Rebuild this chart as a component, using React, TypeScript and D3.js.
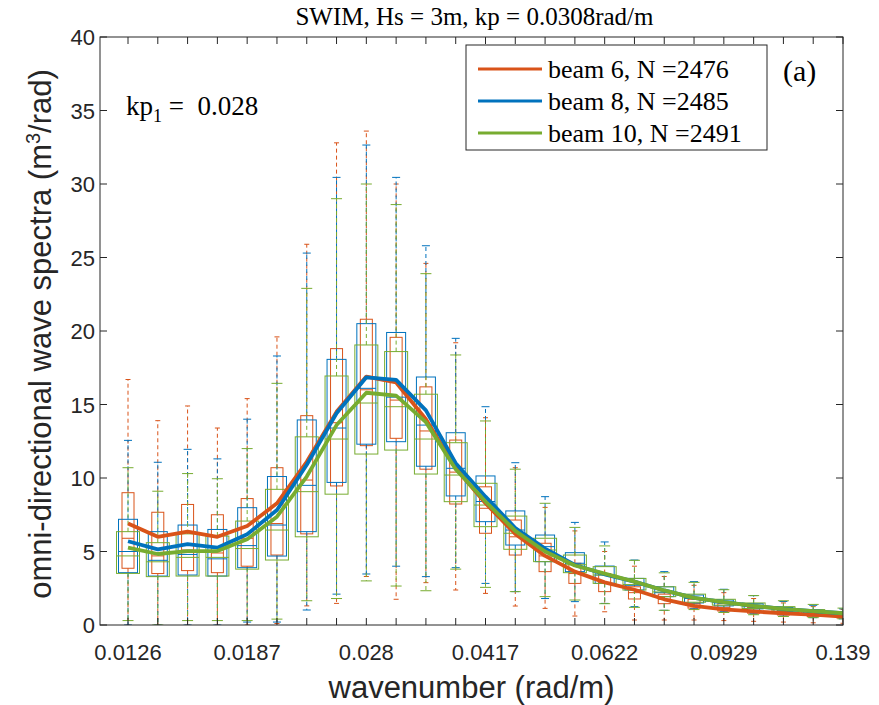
import React from "react";
import * as d3 from "d3";

const categoryIndex = d3.range(25);
const xTickLabels = ["0.0126", "0.0187", "0.028", "0.0417", "0.0622", "0.0929", "0.139"];
const xLabelIdx = [0, 4, 8, 12, 16, 20, 24];
const yTicks = [0, 5, 10, 15, 20, 25, 30, 35, 40];

// beam 6 (orange)
const b6Hi = [16.7, 13.9, 14.9, 13.4, 15.4, 19.6, 25.9, 32.8, 33.6, 30.0, 24.6, 19.2, 14.1, 10.7, 8.0, 6.4, 5.0, 4.0, 3.3, 2.7, 2.2, 1.8, 1.5, 1.25, 1.05];
const b6Q3 = [9.0, 7.67, 8.2, 7.5, 8.6, 10.7, 14.24, 18.8, 20.8, 19.57, 16.2, 12.58, 9.4, 7.14, 5.56, 4.2, 3.5, 2.6, 2.1, 1.75, 1.45, 1.2, 1.0, 0.85, 0.72];
const b6Med = [5.9, 4.7, 5.1, 4.9, 5.9, 6.9, 9.86, 13.76, 16.0, 15.3, 13.2, 10.4, 7.94, 6.0, 4.7, 3.5, 2.9, 2.2, 1.75, 1.45, 1.2, 1.0, 0.85, 0.7, 0.6];
const b6Q1 = [3.86, 3.5, 3.7, 3.56, 4.0, 4.76, 6.2, 9.46, 12.2, 12.7, 10.6, 8.23, 6.24, 4.76, 3.63, 2.83, 2.27, 1.77, 1.45, 1.15, 0.95, 0.8, 0.68, 0.57, 0.48];
const b6Lo = [0.0, 0.0, 0.0, 0.0, 0.0, 0.1, 1.3, 1.47, 3.3, 1.75, 2.88, 2.38, 2.15, 1.29, 1.13, 0.61, 0.9, 0.34, 0.34, 0.34, 0.3, 0.25, 0.2, 0.15, 0.12];
const b6Mean = [6.9, 6.0, 6.35, 6.0, 6.73, 8.28, 11.1, 14.5, 16.9, 16.5, 14.0, 10.66, 8.28, 6.2, 4.7, 3.63, 2.9, 2.4, 1.75, 1.3, 1.07, 0.92, 0.8, 0.7, 0.57];

// beam 8 (blue)
const b8Hi = [12.56, 11.07, 11.95, 11.3, 14.0, 18.3, 25.3, 30.45, 32.65, 30.45, 25.8, 19.5, 14.85, 11.04, 8.73, 6.98, 5.65, 4.42, 3.63, 2.95, 2.43, 2.0, 1.6, 1.34, 1.1];
const b8Q3 = [7.19, 6.35, 6.8, 6.5, 7.98, 10.1, 13.95, 18.07, 20.5, 19.9, 16.87, 13.08, 10.14, 7.76, 6.12, 4.92, 4.01, 3.17, 2.6, 2.04, 1.7, 1.45, 1.2, 1.0, 0.85];
const b8Med = [5.0, 4.4, 4.8, 4.5, 5.4, 6.8, 9.5, 13.4, 16.1, 15.5, 13.6, 10.66, 8.4, 6.46, 5.33, 4.2, 3.4, 2.7, 2.2, 1.8, 1.5, 1.25, 1.05, 0.9, 0.75];
const b8Q1 = [3.56, 3.33, 3.4, 3.33, 3.9, 4.69, 6.35, 9.7, 12.3, 12.47, 10.8, 8.78, 7.03, 5.44, 4.31, 3.63, 2.83, 2.38, 1.93, 1.5, 1.3, 1.1, 0.92, 0.78, 0.65];
const b8Lo = [0.0, 0.0, 0.0, 0.0, 0.2, 0.2, 1.02, 2.1, 3.47, 4.0, 3.29, 3.9, 2.83, 2.27, 1.8, 1.59, 1.47, 1.25, 1.0, 1.1, 0.9, 0.75, 0.6, 0.5, 0.42];
const b8Mean = [5.7, 5.15, 5.5, 5.26, 6.17, 7.82, 10.9, 14.4, 16.85, 16.67, 14.6, 11.0, 8.73, 6.6, 5.2, 4.08, 3.45, 2.95, 2.35, 1.85, 1.55, 1.3, 1.1, 0.95, 0.8];

// beam 10 (green)
const b10Hi = [10.7, 9.1, 10.3, 9.95, 12.0, 16.44, 22.9, 29.0, 30.0, 28.6, 23.9, 18.37, 13.88, 10.6, 8.28, 6.64, 5.38, 4.4, 3.55, 2.9, 2.4, 2.0, 1.65, 1.4, 1.15];
const b10Q3 = [6.35, 5.6, 6.2, 6.05, 7.07, 9.23, 12.8, 16.94, 19.05, 18.6, 15.7, 12.4, 9.64, 7.41, 5.9, 4.76, 3.97, 3.17, 2.6, 2.1, 1.75, 1.5, 1.25, 1.05, 0.88];
const b10Med = [4.7, 4.3, 4.6, 4.6, 5.2, 6.46, 9.07, 12.65, 15.1, 14.85, 12.65, 10.2, 8.16, 6.24, 5.1, 4.1, 3.4, 2.75, 2.25, 1.85, 1.55, 1.3, 1.1, 0.92, 0.78];
const b10Q1 = [3.51, 3.29, 3.33, 3.33, 3.8, 4.42, 6.0, 8.9, 11.63, 11.9, 10.27, 8.39, 6.69, 5.15, 4.31, 3.56, 2.83, 2.38, 1.93, 1.55, 1.35, 1.12, 0.95, 0.8, 0.67];
const b10Lo = [0.3, 0.0, 0.3, 0.3, 0.3, 0.4, 1.65, 1.8, 3.0, 2.65, 2.33, 3.8, 2.56, 2.27, 1.93, 1.7, 1.45, 1.2, 1.0, 1.05, 0.85, 0.7, 0.58, 0.5, 0.42];
const b10Mean = [5.26, 4.83, 5.03, 5.03, 5.83, 7.37, 10.1, 13.6, 15.8, 15.6, 13.8, 10.6, 8.4, 6.4, 5.0, 4.05, 3.5, 2.95, 2.35, 1.85, 1.55, 1.3, 1.1, 0.95, 0.8];

const beamNames = ["beam 6, N =2476", "beam 8, N =2485", "beam 10, N =2491"];
const beamColors = ["#D95319", "#0072BD", "#77AC30"];

const series = [
  { hi: b6Hi, q3: b6Q3, med: b6Med, q1: b6Q1, lo: b6Lo, mean: b6Mean, boxW: 12, capW: 5 },
  { hi: b8Hi, q3: b8Q3, med: b8Med, q1: b8Q1, lo: b8Lo, mean: b8Mean, boxW: 19, capW: 8 },
  { hi: b10Hi, q3: b10Q3, med: b10Med, q1: b10Q1, lo: b10Lo, mean: b10Mean, boxW: 23, capW: 11 },
];

const L = 100, R = 843, T = 37, B = 625;
const SANS = "'Liberation Sans', Arial, Helvetica, sans-serif";
const SERIF = "'Liberation Serif', 'Times New Roman', serif";
const AX = "#262626";

export default function App() {
  const x = d3.scaleLinear().domain([-0.94, 24]).range([L, R]);
  const y = d3.scaleLinear().domain([0, 40]).range([B, T]);
  const line = d3.line<number>().x((_, i) => x(i)).y((v) => y(v));

  return (
    <svg width={879} height={705} style={{ position: "absolute", left: 0, top: 0, background: "#fff" }}>
      <defs>
        <clipPath id="plotclip">
          <rect x={L} y={T} width={R - L} height={B - T} />
        </clipPath>
      </defs>
      <text x={(L + R) / 2 + 3} y={25} textAnchor="middle" fontFamily={SERIF} fontSize={25} fill="#000">
        SWIM, Hs = 3m, kp = 0.0308rad/m
      </text>

      <g clipPath="url(#plotclip)">
        {series.map((s, si) => (
          <g key={si} stroke={beamColors[si]} fill="none" strokeWidth={1}>
            {categoryIndex.map((i) => {
              const cx = x(i);
              return (
                <g key={i}>
                  <line x1={cx} x2={cx} y1={y(s.q3[i])} y2={y(s.hi[i])} strokeDasharray="4,3" />
                  <line x1={cx} x2={cx} y1={y(s.q1[i])} y2={y(s.lo[i])} strokeDasharray="4,3" />
                  <line x1={cx - s.capW / 2} x2={cx + s.capW / 2} y1={y(s.hi[i])} y2={y(s.hi[i])} />
                  <line x1={cx - s.capW / 2} x2={cx + s.capW / 2} y1={y(s.lo[i])} y2={y(s.lo[i])} />
                  <rect x={cx - s.boxW / 2} y={y(s.q3[i])} width={s.boxW} height={y(s.q1[i]) - y(s.q3[i])} />
                  <line x1={cx - s.boxW / 2} x2={cx + s.boxW / 2} y1={y(s.med[i])} y2={y(s.med[i])} />
                </g>
              );
            })}
          </g>
        ))}
        {series.map((s, si) => (
          <path key={si} d={line(s.mean) || ""} stroke={beamColors[si]} strokeWidth={3.8} fill="none" strokeLinejoin="round" />
        ))}
      </g>

      {/* axes box */}
      <rect x={L} y={T} width={R - L} height={B - T} fill="none" stroke={AX} strokeWidth={1} />
      {categoryIndex.map((i) => (
        <g key={i} stroke={AX} strokeWidth={1}>
          <line x1={x(i)} x2={x(i)} y1={B} y2={B - 7} />
          <line x1={x(i)} x2={x(i)} y1={T} y2={T + 7} />
        </g>
      ))}
      {yTicks.map((v) => (
        <g key={v}>
          <line x1={L} x2={L + 7} y1={y(v)} y2={y(v)} stroke={AX} />
          <line x1={R} x2={R - 7} y1={y(v)} y2={y(v)} stroke={AX} />
          <text x={L - 5} y={y(v) + 8} textAnchor="end" fontFamily={SANS} fontSize={22} fill={AX}>
            {v}
          </text>
        </g>
      ))}
      {xLabelIdx.map((i, k) => (
        <text key={i} x={x(i)} y={B + 35} textAnchor="middle" fontFamily={SANS} fontSize={22} fill={AX}>
          {xTickLabels[k]}
        </text>
      ))}
      <text x={(L + R) / 2} y={698} textAnchor="middle" fontFamily={SANS} fontSize={31} fill={AX}>
        wavenumber (rad/m)
      </text>
      <text transform={`translate(51, ${(T + B) / 2 + 3}) rotate(-90)`} textAnchor="middle" fontFamily={SANS} fontSize={31} fill={AX}>
        omni-directional wave spectra (m<tspan dy={-11} fontSize={20}>3</tspan><tspan dy={11}>/rad)</tspan>
      </text>

      <text x={126} y={115} fontFamily={SERIF} fontSize={27} fill="#000">
        kp<tspan fontSize={18} dy={7}>1</tspan><tspan dy={-7}>{"\u00a0=\u00a0\u00a00.028"}</tspan>
      </text>

      {/* legend */}
      <rect x={466} y={45} width={301} height={105} fill="#fff" stroke={AX} strokeWidth={1} />
      {beamNames.map((n, k) => (
        <g key={n}>
          <line x1={478} x2={542} y1={69 + k * 32} y2={69 + k * 32} stroke={beamColors[k]} strokeWidth={3} />
          <text x={548} y={78 + k * 32} fontFamily={SERIF} fontSize={26} fill="#000">
            {n}
          </text>
        </g>
      ))}
      <text x={783} y={81} fontFamily={SERIF} fontSize={30} fill="#000">
        (a)
      </text>
    </svg>
  );
}
